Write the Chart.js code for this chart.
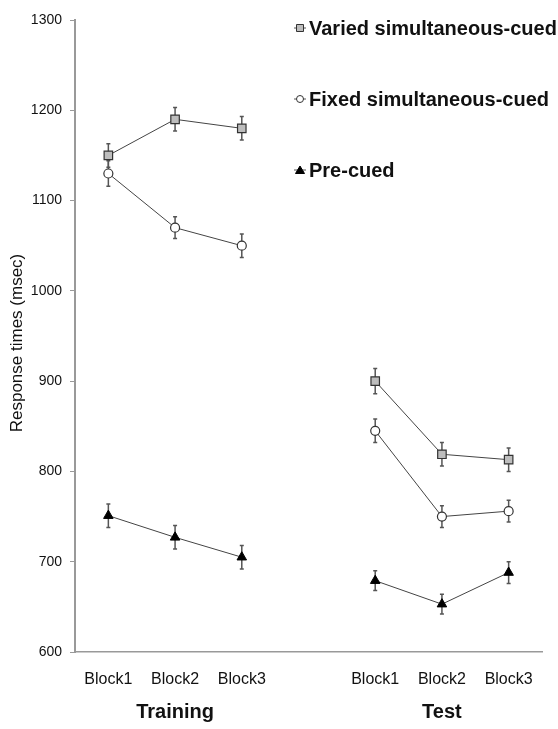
<!DOCTYPE html>
<html>
<head>
<meta charset="utf-8">
<script src="https://cdn.jsdelivr.net/npm/chart.js@4/dist/chart.umd.min.js"></script>
<style>
  html, body { margin: 0; padding: 0; background: #fff; }
  #wrap { width: 558px; height: 729px; }
</style>
</head>
<body>
<div id="wrap"><canvas id="myChart"></canvas></div>
<script>
// categories along x (empty slot = gap between the two phases)
const blocks = ["Block1", "Block2", "Block3", "", "Block1", "Block2", "Block3"];
const phases = ["Training", "Test"];
const phaseCenters = [2, 6];
const yTitle = "Response times (msec)";

// mean response times (msec)
const varied = [1150, 1190, 1180, null, 900, 819, 813];
const fixed  = [1130, 1070, 1050, null, 845, 750, 756];
const precue = [751, 727, 705, null, 679, 653, 688];

// error bar half-widths (msec)
const variedErr = [13, 13, 13, null, 14, 13, 13];
const fixedErr  = [14, 12, 13, null, 13, 12, 12];
const precueErr = [13, 13, 13, null, 11, 11, 12];

const yTicks = [600, 700, 800, 900, 1000, 1100, 1200, 1300];

const FONT = "'Liberation Sans', Arial, sans-serif";
const toPoints = arr => arr.map((v, i) => ({ x: i + 1, y: v }));

const errorBars = {
  id: "errorBars",
  beforeDatasetsDraw(chart) {
    const ctx = chart.ctx;
    const xs = chart.scales.x, ys = chart.scales.y;
    ctx.save();
    ctx.strokeStyle = "#555";
    ctx.lineWidth = 1.5;
    chart.data.datasets.forEach(ds => {
      ds.errors.forEach((e, i) => {
        const v = ds.data[i].y;
        if (v == null || e == null) return;
        const px = xs.getPixelForValue(i + 1);
        const top = ys.getPixelForValue(v + e);
        const bot = ys.getPixelForValue(v - e);
        ctx.beginPath();
        ctx.moveTo(px, top); ctx.lineTo(px, bot);
        ctx.moveTo(px - 2, top); ctx.lineTo(px + 2, top);
        ctx.moveTo(px - 2, bot); ctx.lineTo(px + 2, bot);
        ctx.stroke();
      });
    });
    ctx.restore();
  }
};

const extras = {
  id: "extras",
  afterDraw(chart) {
    const ctx = chart.ctx;
    const xs = chart.scales.x;
    ctx.save();
    // y axis title
    ctx.fillStyle = "#111";
    ctx.font = "17px " + FONT;
    ctx.textAlign = "center";
    ctx.textBaseline = "middle";
    ctx.translate(17, 343);
    ctx.rotate(-Math.PI / 2);
    ctx.fillText(yTitle, 0, 0);
    ctx.setTransform(1, 0, 0, 1, 0, 0);
    // phase labels
    ctx.font = "bold 20px " + FONT;
    phases.forEach((p, i) => ctx.fillText(p, xs.getPixelForValue(phaseCenters[i]), 712));
    // legend
    const ys = [28, 99, 170];
    const mx = 300;
    ctx.textAlign = "left";
    chart.data.datasets.forEach((ds, i) => {
      const y = ys[i];
      ctx.strokeStyle = "#555";
      ctx.lineWidth = 1;
      ctx.beginPath(); ctx.moveTo(mx - 6, y); ctx.lineTo(mx + 6, y); ctx.stroke();
      ctx.fillStyle = ds.pointBackgroundColor;
      ctx.strokeStyle = ds.pointBorderColor;
      ctx.beginPath();
      if (ds.pointStyle === "rect") {
        ctx.rect(mx - 3.5, y - 3.5, 7, 7);
      } else if (ds.pointStyle === "circle") {
        ctx.arc(mx, y, 3.5, 0, Math.PI * 2);
      } else {
        ctx.moveTo(mx, y - 4); ctx.lineTo(mx + 4.5, y + 3.5); ctx.lineTo(mx - 4.5, y + 3.5); ctx.closePath();
      }
      ctx.fill(); ctx.stroke();
      ctx.fillStyle = "#111";
      ctx.font = "bold 20px " + FONT;
      ctx.fillText(ds.label, 309, y + 1);
    });
    ctx.restore();
  }
};

const myChart = new Chart("myChart", {
  type: "line",
  data: {
    datasets: [
      {
        label: "Varied simultaneous-cued",
        data: toPoints(varied),
        errors: variedErr,
        borderColor: "#444",
        borderWidth: 1,
        pointStyle: "rect",
        pointRadius: 6,
        pointBackgroundColor: "#bdbdbd",
        pointBorderColor: "#333",
        pointBorderWidth: 1.2
      },
      {
        label: "Fixed simultaneous-cued",
        data: toPoints(fixed),
        errors: fixedErr,
        borderColor: "#444",
        borderWidth: 1,
        pointStyle: "circle",
        pointRadius: 4.5,
        pointBackgroundColor: "#fff",
        pointBorderColor: "#333",
        pointBorderWidth: 1.2
      },
      {
        label: "Pre-cued",
        data: toPoints(precue),
        errors: precueErr,
        borderColor: "#444",
        borderWidth: 1,
        pointStyle: "triangle",
        pointRadius: 5.5,
        pointBackgroundColor: "#000",
        pointBorderColor: "#000",
        pointBorderWidth: 1
      }
    ]
  },
  options: {
    responsive: true,
    maintainAspectRatio: false,
    animation: false,
    spanGaps: false,
    clip: false,
    layout: { padding: { top: 20, right: 16, left: 0, bottom: 0 } },
    plugins: { legend: { display: false }, tooltip: { enabled: false } },
    scales: {
      x: {
        type: "linear",
        min: 0.5,
        max: 7.5,
        afterBuildTicks: s => {
          s.ticks = blocks.map((b, i) => ({ value: i + 1, label: b })).filter(t => t.label !== "");
        },
        afterFit: s => { s.height = 77; },
        grid: { display: false },
        border: { display: true, color: "#999", width: 1.5 },
        ticks: {
          callback: v => blocks[v - 1],
          color: "#111",
          padding: 10,
          maxRotation: 0,
          autoSkip: false,
          font: { size: 16, family: FONT }
        }
      },
      y: {
        min: 600,
        max: 1300,
        afterBuildTicks: s => { s.ticks = yTicks.map(v => ({ value: v })); },
        afterFit: s => { s.width = 75; },
        grid: { display: true, drawOnChartArea: false, drawTicks: true, tickLength: 5, color: "#999", lineWidth: 1 },
        border: { display: true, color: "#999", width: 2 },
        ticks: {
          callback: v => String(v),
          color: "#111",
          padding: 8,
          font: { size: 14, family: FONT }
        }
      }
    }
  },
  plugins: [errorBars, extras]
});
</script>
</body>
</html>
